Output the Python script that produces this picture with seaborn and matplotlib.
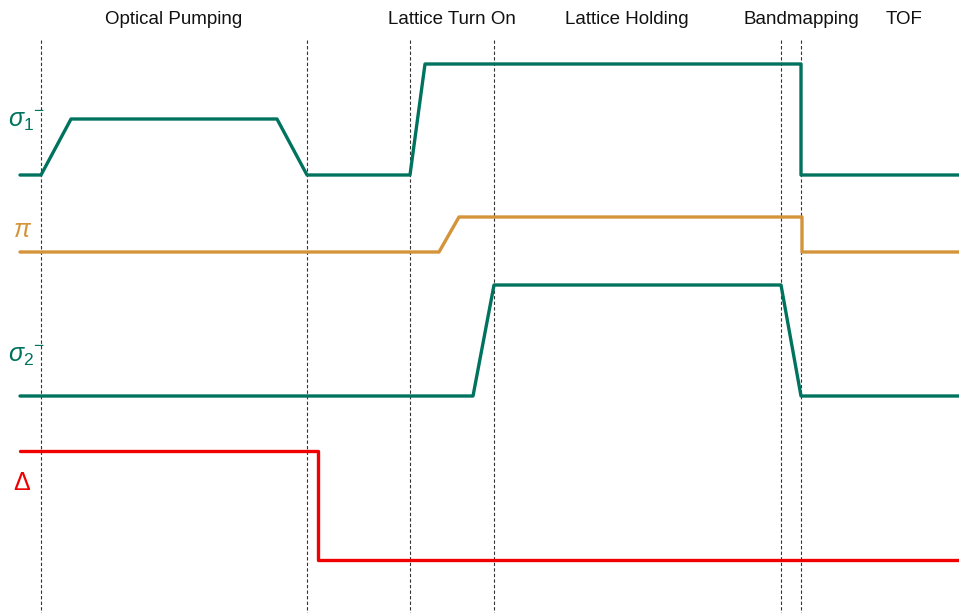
import matplotlib
matplotlib.use("Agg")
import matplotlib.pyplot as plt
import seaborn as sns

sns.set_theme(style="white")
plt.rcParams["font.family"] = ["Liberation Sans", "DejaVu Sans"]
plt.rcParams["mathtext.fontset"] = "custom"
plt.rcParams["mathtext.rm"] = "Liberation Sans"
plt.rcParams["mathtext.it"] = "Liberation Sans:italic"

# Phase boundaries (time axis, arbitrary units)
boundaries = [41, 307, 410, 494, 781, 801]

# Phase names and their centre positions
phase_names = ["Optical Pumping", "Lattice Turn On", "Lattice Holding", "Bandmapping", "TOF"]
phase_centres = [174, 452, 627, 801, 904]

# Breakpoints of each control signal (time, level); larger level = lower on page
sigma1_t = [20, 41, 71, 277, 307, 410, 425, 801, 801, 959]
sigma1_y = [175, 175, 119, 119, 175, 175, 64, 64, 175, 175]

pi_t = [20, 439, 459, 802, 802, 959]
pi_y = [252, 252, 217, 217, 252, 252]

sigma2_t = [20, 473, 494, 781, 801, 959]
sigma2_y = [396, 396, 285, 285, 396, 396]

delta_t = [20, 318, 318, 959]
delta_y = [451, 451, 560, 560]

# Signal labels
signal_labels = [r"$\sigma_{1}{}^{-}$", r"$\pi$", r"$\sigma_{2}{}^{-}$", r"$\Delta$"]
label_pos = [(27, 121), (23, 230), (27, 356), (22, 483)]

teal = "#00735F"
orange = "#D4943A"
red = "#F00000"
colors = [teal, orange, teal, red]

fig = plt.figure(figsize=(9.59, 6.13), dpi=100)
ax = fig.add_axes([0, 0, 1, 1])

for b in boundaries:
    ax.plot([b, b], [40, 613], color="#333333", lw=0.8, ls=(0, (3, 2)), zorder=1)

series = [(sigma1_t, sigma1_y), (pi_t, pi_y), (sigma2_t, sigma2_y), (delta_t, delta_y)]
for (t, y), c in zip(series, colors):
    sns.lineplot(x=t, y=y, sort=False, estimator=None, color=c, lw=2.4, ax=ax, zorder=3)

for name, cx in zip(phase_names, phase_centres):
    ax.text(cx, 20, name, ha="center", va="center", fontsize=13.5, color="#111111")

for lab, (x, y), c in zip(signal_labels, label_pos, colors):
    ax.text(x, y, lab, ha="center", va="center", fontsize=18, color=c)

ax.set_xlim(0, 959)
ax.set_ylim(613, 0)
ax.axis("off")

fig.savefig("out.png", dpi=100)
